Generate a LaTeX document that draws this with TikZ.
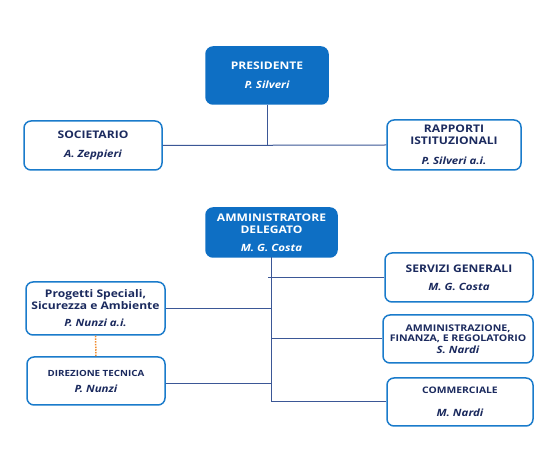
\documentclass[tikz,border=0pt]{standalone}
\usepackage{fontspec}
\setmainfont{Open Sans}[FakeStretch=1.15]
\definecolor{fillblue}{HTML}{0E6FC4}
\definecolor{edgeblue}{HTML}{1A7BCB}
\definecolor{navy}{HTML}{1B2A5E}
\definecolor{linecol}{HTML}{3B5796}
\definecolor{orangedot}{HTML}{F28C2E}
\tikzset{
  wbox/.style={draw=edgeblue, line width=1.5pt, rounded corners=7pt, fill=white, text=navy,
    align=center, inner sep=0pt, font=\bfseries\fontsize{10.5}{12}\selectfont},
  bbox/.style={wbox, fill=fillblue, draw=fillblue, text=white},
  conn/.style={draw=linecol, line width=1pt},
  dotconn/.style={draw=orangedot, line width=1.5pt, dash pattern=on 1.5pt off 1.2pt}
}
\newcommand{\nm}[1]{{\fontsize{10}{12}\selectfont\itshape #1}}
\begin{document}
\begin{tikzpicture}[x=1pt,y=-1pt]
\useasboundingbox[fill=white] (0,0) rectangle (558,470);
% top part
\node[bbox, minimum width=122pt, minimum height=57pt] (pres) at (267,75.5) {PRESIDENTE\\[7pt]\nm{P. Silveri}};
\node[wbox, minimum width=138pt, minimum height=49pt] (soc) at (93,145.5) {SOCIETARIO\\[7pt]\nm{A. Zeppieri}};
\node[wbox, minimum width=134pt, minimum height=50pt] (rapp) at (454,145) {RAPPORTI\\ISTITUZIONALI\\[8pt]\nm{P. Silveri a.i.}};
\draw[conn] (pres.south) -- (pres.south |- soc.east);
\draw[conn] (soc.east) -- (rapp.west);
% lower part
\node[bbox, minimum width=131pt, minimum height=49pt] (ad) at (271.5,232.5) {AMMINISTRATORE\\DELEGATO\\[6pt]\nm{M. G. Costa}};
\node[wbox, minimum width=139pt, minimum height=53pt] (prog) at (95.5,308.5) {Progetti Speciali,\\Sicurezza e Ambiente\\[5pt]\nm{P. Nunzi a.i.}};
\node[wbox, minimum width=138pt, minimum height=48pt, font=\bfseries\fontsize{8.5}{10}\selectfont] (dir) at (96,381) {DIREZIONE TECNICA\\[6pt]\nm{P. Nunzi}};
\node[wbox, minimum width=148pt, minimum height=49pt] (serv) at (459,277.5) {SERVIZI GENERALI\\[6pt]\nm{M. G. Costa}};
\node[wbox, minimum width=150pt, minimum height=48pt, font=\bfseries\fontsize{9.2}{10.5}\selectfont] (amm) at (458,339) {AMMINISTRAZIONE,\\FINANZA, E REGOLATORIO\\[1pt]\nm{S. Nardi}};
\node[wbox, minimum width=146pt, minimum height=48pt, font=\bfseries\fontsize{9}{10}\selectfont] (comm) at (460,402) {COMMERCIALE\\[13pt]\nm{M. Nardi}};
\coordinate (trunk) at (271,257);
\draw[conn] (trunk) -- (trunk |- comm.west);
\draw[conn] (serv.west) -- ([xshift=-3pt]serv.west -| trunk);
\draw[conn] (prog.east) -- (prog.east -| trunk);
\draw[conn] (amm.west) -- (amm.west -| trunk);
\draw[conn] ([yshift=-3pt]dir.east) -- ([yshift=-3pt]dir.east -| trunk);
\draw[conn] (comm.west) -- (comm.west -| trunk);
\draw[dotconn] (prog.south) -- (dir.north);
\end{tikzpicture}
\end{document}
